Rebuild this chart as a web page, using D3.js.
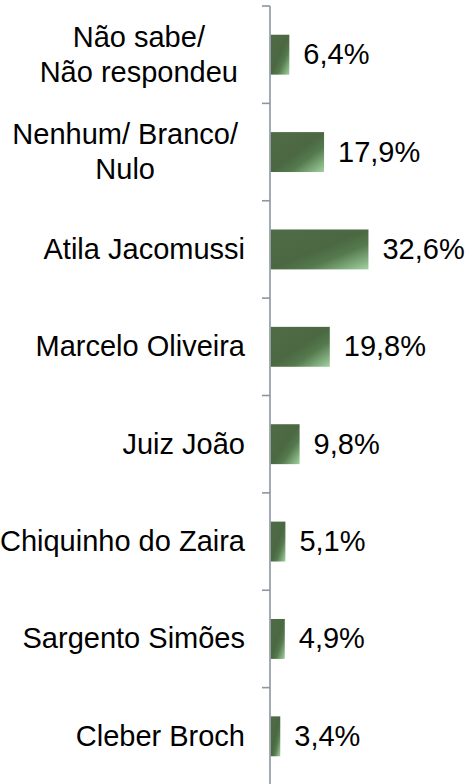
<!DOCTYPE html>
<html>
<head>
<meta charset="utf-8">
<script src="https://cdn.jsdelivr.net/npm/d3@7"></script>
<style>
  html, body { margin: 0; padding: 0; background: #ffffff; }
  svg { display: block; }
</style>
</head>
<body>
<svg id="chart" width="467" height="784"></svg>
<script>
// Data (top to bottom as shown)
const categories = [
  ["Não sabe/", "Não respondeu"],
  ["Nenhum/ Branco/", "Nulo"],
  ["Atila Jacomussi"],
  ["Marcelo Oliveira"],
  ["Juiz João"],
  ["Chiquinho do Zaira"],
  ["Sargento Simões"],
  ["Cleber Broch"]
];
const values = [6.4, 17.9, 32.6, 19.8, 9.8, 5.1, 4.9, 3.4];
const valueLabels = ["6,4%", "17,9%", "32,6%", "19,8%", "9,8%", "5,1%", "4,9%", "3,4%"];

const W = 467, H = 784;
const axisX = 270;
const fontSize = 29;
const font = "'Liberation Sans', Arial, sans-serif";

const svg = d3.select("#chart");

const defs = svg.append("defs");
const grad = defs.append("linearGradient")
  .attr("id", "barGrad")
  .attr("x1", 0).attr("y1", 0).attr("x2", 1).attr("y2", 1);
[[0, "#4f6c47"], [0.5, "#4b6842"], [0.68, "#557a4e"], [1, "#a2d2a0"]].forEach(s => {
  grad.append("stop").attr("offset", s[0]).attr("stop-color", s[1]);
});

const keys = categories.map((c, i) => i);
const y = d3.scaleBand()
  .domain(keys)
  .range([6, 785])
  .paddingInner(0.59)
  .paddingOuter(0.295);

const x = d3.scaleLinear()
  .domain([0, 33])
  .range([axisX, axisX + 33 * 3.02]);

// Axis (category ticks between bands)
const step = y.step();
const tickYs = d3.range(categories.length + 1).map(i => 6 + i * step);

const axisG = svg.append("g");
axisG.append("line")
  .attr("x1", axisX).attr("x2", axisX)
  .attr("y1", tickYs[0]).attr("y2", H + 5)
  .attr("stroke", "#8b96a2").attr("stroke-width", 1.6);
axisG.selectAll("line.tick")
  .data(tickYs)
  .join("line")
  .attr("class", "tick")
  .attr("x1", axisX - 8).attr("x2", axisX)
  .attr("y1", d => d).attr("y2", d => d)
  .attr("stroke", "#8b96a2").attr("stroke-width", 1.6);

// Bars
svg.selectAll("rect.bar")
  .data(values)
  .join("rect")
  .attr("class", "bar")
  .attr("x", x(0) + 0.8)
  .attr("y", (d, i) => y(i))
  .attr("width", d => x(d) - x(0) - 0.8)
  .attr("height", y.bandwidth())
  .attr("fill", "url(#barGrad)");

// Value labels
svg.selectAll("text.val")
  .data(values)
  .join("text")
  .attr("class", "val")
  .attr("x", d => x(d) + 14)
  .attr("y", (d, i) => y(i) + y.bandwidth() / 2 + 9.5)
  .attr("font-family", font)
  .attr("font-size", fontSize)
  .attr("fill", "#000")
  .text((d, i) => valueLabels[i]);

// Category labels
const lineGap = 35;
categories.forEach((lines, i) => {
  const cy = y(i) + y.bandwidth() / 2;
  const g = svg.append("g");
  if (lines.length === 1) {
    g.append("text")
      .attr("x", 245)
      .attr("y", cy + 9.5)
      .attr("text-anchor", "end")
      .attr("font-family", font)
      .attr("font-size", fontSize)
      .attr("fill", "#000")
      .text(lines[0]);
  } else {
    const ts = lines.map((ln, j) => g.append("text")
      .attr("y", cy - (lines.length - 1) / 2 * lineGap + j * lineGap + 9.5)
      .attr("text-anchor", "middle")
      .attr("font-family", font)
      .attr("font-size", fontSize)
      .attr("fill", "#000")
      .text(ln));
    const maxW = d3.max(ts, t => t.node().getComputedTextLength());
    ts.forEach(t => t.attr("x", 238 - maxW / 2));
  }
});
</script>
</body>
</html>
